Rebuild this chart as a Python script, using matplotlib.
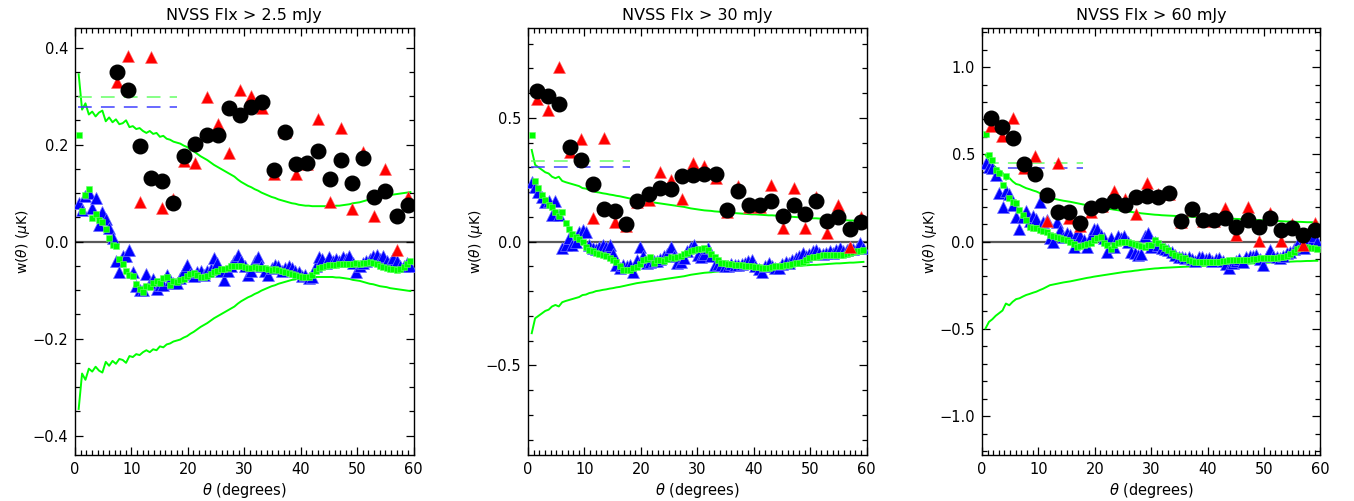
import numpy as np
import matplotlib
matplotlib.use("Agg")
import matplotlib.pyplot as plt
from matplotlib.ticker import MultipleLocator, FuncFormatter

# fine angular grid (blue triangles, green squares, green envelope)
theta_f = np.round(np.arange(0.65, 60.0, 0.6), 2)
# coarse angular grid (black circles, red triangles)
theta_c = [1.55, 3.53, 5.51, 7.49, 9.47, 11.45, 13.43, 15.41, 17.39, 19.37,
           21.35, 23.33, 25.31, 27.29, 29.27, 31.25, 33.23, 35.21, 37.19, 39.17,
           41.15, 43.13, 45.11, 47.09, 49.07, 51.05, 53.03, 55.01, 56.99, 58.97]

titles = ["NVSS Flx > 2.5 mJy", "NVSS Flx > 30 mJy", "NVSS Flx > 60 mJy"]

# ---- panel 1 : > 2.5 mJy ----
env1 = [0.345, 0.272, 0.285, 0.262, 0.268, 0.258, 0.266, 0.270, 0.248, 0.256, 0.246,
        0.252, 0.242, 0.244, 0.250, 0.236, 0.238, 0.232, 0.234, 0.228, 0.224, 0.228,
        0.222, 0.224, 0.216, 0.218, 0.212, 0.210, 0.206, 0.204, 0.202, 0.198, 0.195,
        0.190, 0.186, 0.181, 0.176, 0.172, 0.168, 0.163, 0.158, 0.154, 0.150, 0.146,
        0.142, 0.138, 0.134, 0.128, 0.123, 0.119, 0.115, 0.112, 0.108, 0.105, 0.101,
        0.098, 0.095, 0.092, 0.090, 0.087, 0.085, 0.083, 0.081, 0.079, 0.078, 0.076,
        0.075, 0.074, 0.074, 0.073, 0.073, 0.073, 0.073, 0.073, 0.073, 0.073, 0.074,
        0.074, 0.075, 0.076, 0.077, 0.079, 0.080, 0.081, 0.083, 0.085, 0.087, 0.088,
        0.090, 0.092, 0.093, 0.094, 0.096, 0.097, 0.098, 0.099, 0.100, 0.101, 0.102]
blue1 = [0.079, 0.065, 0.095, 0.100, 0.070, 0.089, 0.035, 0.062, 0.047, 0.028, 0.008,
         -0.040, -0.062, -0.030, -0.030, -0.017, -0.062, -0.092, -0.100, -0.100, -0.067, -0.085,
         -0.077, -0.097, -0.090, -0.089, -0.068, -0.080, -0.085, -0.086, -0.075, -0.060, -0.048,
         -0.067, -0.070, -0.062, -0.060, -0.068, -0.060, -0.056, -0.034, -0.044, -0.060, -0.079,
         -0.060, -0.050, -0.040, -0.028, -0.040, -0.050, -0.068, -0.060, -0.040, -0.031, -0.050,
         -0.060, -0.068, -0.055, -0.048, -0.050, -0.060, -0.055, -0.050, -0.055, -0.060, -0.062,
         -0.070, -0.068, -0.075, -0.073, -0.050, -0.031, -0.035, -0.045, -0.031, -0.040, -0.035,
         -0.040, -0.031, -0.035, -0.030, -0.045, -0.062, -0.050, -0.045, -0.040, -0.035, -0.030,
         -0.027, -0.035, -0.030, -0.040, -0.045, -0.034, -0.040, -0.050, -0.050, -0.045, -0.050]
green1 = [0.220, 0.064, 0.097, 0.108, 0.049, 0.056, 0.045, 0.040, 0.026, 0.008, -0.008,
          -0.010, -0.036, -0.046, -0.060, -0.068, -0.070, -0.087, -0.097, -0.103, -0.092, -0.094,
          -0.085, -0.082, -0.086, -0.076, -0.074, -0.089, -0.082, -0.083, -0.080, -0.077, -0.070,
          -0.066, -0.065, -0.068, -0.074, -0.072, -0.070, -0.066, -0.063, -0.060, -0.057, -0.056,
          -0.055, -0.051, -0.050, -0.050, -0.051, -0.053, -0.055, -0.054, -0.053, -0.054, -0.055,
          -0.055, -0.056, -0.058, -0.057, -0.058, -0.060, -0.062, -0.064, -0.066, -0.068, -0.070,
          -0.072, -0.073, -0.074, -0.068, -0.060, -0.055, -0.052, -0.050, -0.048, -0.049, -0.048,
          -0.047, -0.047, -0.046, -0.047, -0.046, -0.045, -0.046, -0.044, -0.045, -0.043, -0.045,
          -0.047, -0.050, -0.052, -0.054, -0.056, -0.057, -0.058, -0.056, -0.052, -0.046, -0.041]
black1 = [0.349, 0.312, 0.197, 0.132, 0.125, 0.079, 0.176, 0.201, 0.219, 0.219,
          0.276, 0.260, 0.278, 0.288, 0.147, 0.226, 0.160, 0.162, 0.187, 0.130,
          0.168, 0.121, 0.173, 0.091, 0.105, 0.053, 0.075]
red1 = [0.329, 0.382, 0.081, 0.380, 0.070, 0.088, 0.166, 0.163, 0.299, 0.242,
        0.182, 0.312, 0.301, 0.276, 0.139, 0.225, 0.139, 0.160, 0.252, 0.081,
        0.234, 0.068, 0.185, 0.053, 0.149, -0.017, 0.092]

# ---- panel 2 : > 30 mJy ----
env2 = [0.370, 0.310, 0.300, 0.290, 0.280, 0.275, 0.262, 0.256, 0.262, 0.245, 0.240,
        0.236, 0.232, 0.228, 0.224, 0.216, 0.214, 0.208, 0.205, 0.200, 0.198, 0.195,
        0.193, 0.190, 0.188, 0.185, 0.183, 0.180, 0.177, 0.174, 0.171, 0.168, 0.166,
        0.164, 0.162, 0.160, 0.158, 0.156, 0.154, 0.152, 0.150, 0.148, 0.146, 0.144,
        0.142, 0.140, 0.137, 0.134, 0.132, 0.130, 0.128, 0.126, 0.125, 0.124, 0.122,
        0.121, 0.120, 0.118, 0.117, 0.116, 0.115, 0.114, 0.113, 0.112, 0.111, 0.110,
        0.110, 0.109, 0.108, 0.107, 0.106, 0.106, 0.105, 0.104, 0.103, 0.102, 0.101,
        0.100, 0.099, 0.098, 0.097, 0.096, 0.095, 0.094, 0.094, 0.093, 0.092, 0.091,
        0.090, 0.089, 0.088, 0.088, 0.087, 0.086, 0.085, 0.085, 0.084, 0.083, 0.082]
blue2 = [0.240, 0.220, 0.200, 0.180, 0.160, 0.162, 0.108, 0.162, 0.108, -0.027, -0.013,
         0.014, -0.013, 0.000, 0.040, 0.047, 0.038, -0.013, -0.027, -0.030, -0.020, -0.013,
         -0.020, -0.013, -0.050, -0.094, -0.108, -0.094, -0.100, -0.094, -0.121, -0.074, -0.020,
         -0.060, -0.087, -0.081, -0.080, -0.080, -0.070, -0.060, -0.050, -0.020, -0.060, -0.087,
         -0.081, -0.067, -0.040, -0.020, -0.013, -0.054, -0.061, -0.050, -0.027, -0.060, -0.094,
         -0.090, -0.095, -0.100, -0.100, -0.090, -0.095, -0.094, -0.090, -0.085, -0.080, -0.074,
         -0.100, -0.110, -0.121, -0.100, -0.088, -0.100, -0.105, -0.108, -0.090, -0.081, -0.085,
         -0.075, -0.067, -0.060, -0.047, -0.060, -0.050, -0.040, -0.034, -0.045, -0.050, -0.047,
         -0.040, -0.045, -0.034, -0.027, -0.040, -0.035, -0.020, -0.030, -0.025, -0.007, -0.027]
green2 = [0.430, 0.243, 0.216, 0.190, 0.169, 0.148, 0.140, 0.120, 0.105, 0.121, 0.074,
          0.050, 0.030, 0.020, 0.010, 0.000, -0.020, -0.035, -0.040, -0.045, -0.050, -0.054,
          -0.060, -0.067, -0.074, -0.081, -0.100, -0.114, -0.114, -0.114, -0.108, -0.101, -0.090,
          -0.074, -0.070, -0.061, -0.087, -0.074, -0.075, -0.080, -0.070, -0.061, -0.065, -0.061,
          -0.058, -0.050, -0.047, -0.040, -0.034, -0.030, -0.028, -0.027, -0.035, -0.050, -0.061,
          -0.075, -0.085, -0.088, -0.090, -0.092, -0.094, -0.094, -0.096, -0.098, -0.100, -0.100,
          -0.102, -0.104, -0.106, -0.108, -0.106, -0.104, -0.100, -0.100, -0.098, -0.096, -0.094,
          -0.090, -0.088, -0.085, -0.081, -0.075, -0.068, -0.064, -0.061, -0.058, -0.056, -0.055,
          -0.054, -0.054, -0.054, -0.054, -0.054, -0.050, -0.047, -0.044, -0.040, -0.037, -0.034]
black2 = [0.609, 0.590, 0.556, 0.383, 0.330, 0.233, 0.132, 0.125, 0.070, 0.162,
          0.193, 0.216, 0.214, 0.266, 0.270, 0.274, 0.274, 0.128, 0.206, 0.146,
          0.146, 0.163, 0.104, 0.148, 0.112, 0.163, 0.084, 0.099, 0.050, 0.081]
red2 = [0.576, 0.530, 0.704, 0.360, 0.414, 0.094, 0.420, 0.081, 0.061, 0.160,
        0.166, 0.283, 0.247, 0.171, 0.317, 0.307, 0.256, 0.120, 0.225, 0.140,
        0.140, 0.229, 0.054, 0.218, 0.054, 0.180, 0.034, 0.148, -0.020, 0.101]

# ---- panel 3 : > 60 mJy ----
env3 = [0.497, 0.460, 0.445, 0.425, 0.410, 0.395, 0.355, 0.365, 0.345, 0.330, 0.325,
        0.315, 0.306, 0.300, 0.293, 0.287, 0.278, 0.270, 0.260, 0.250, 0.246, 0.242,
        0.238, 0.234, 0.231, 0.228, 0.224, 0.220, 0.216, 0.212, 0.208, 0.205, 0.201,
        0.198, 0.195, 0.192, 0.189, 0.186, 0.183, 0.180, 0.177, 0.174, 0.172, 0.170,
        0.167, 0.165, 0.162, 0.160, 0.158, 0.156, 0.154, 0.153, 0.151, 0.150, 0.149,
        0.148, 0.147, 0.146, 0.145, 0.144, 0.143, 0.142, 0.141, 0.140, 0.139, 0.138,
        0.137, 0.136, 0.135, 0.134, 0.134, 0.133, 0.132, 0.131, 0.130, 0.129, 0.128,
        0.127, 0.126, 0.125, 0.124, 0.123, 0.122, 0.121, 0.120, 0.119, 0.118, 0.117,
        0.116, 0.115, 0.115, 0.114, 0.113, 0.113, 0.112, 0.111, 0.111, 0.110, 0.110]
blue3 = [0.450, 0.430, 0.420, 0.380, 0.280, 0.200, 0.287, 0.270, 0.210, 0.140, 0.071,
         0.143, 0.176, 0.120, 0.147, 0.130, 0.229, 0.115, 0.124, 0.020, 0.000, 0.115,
         0.067, 0.029, 0.050, 0.040, -0.029, 0.050, 0.030, 0.010, -0.029, 0.030, 0.071,
         0.071, 0.040, 0.020, -0.057, 0.020, -0.029, 0.030, 0.020, 0.030, 0.000, -0.057,
         -0.067, -0.076, -0.072, 0.030, 0.050, -0.029, 0.000, -0.020, -0.038, -0.040, -0.050,
         -0.060, -0.075, -0.086, -0.090, -0.095, -0.090, -0.100, -0.110, -0.086, -0.090, -0.100,
         -0.095, -0.110, -0.100, -0.095, -0.110, -0.130, -0.153, -0.120, -0.110, -0.100, -0.115,
         -0.090, -0.085, -0.080, -0.076, -0.100, -0.134, -0.080, -0.048, -0.080, -0.090, -0.095,
         -0.085, -0.067, -0.060, -0.040, -0.019, -0.030, -0.038, 0.020, -0.010, 0.030, 0.000]
green3 = [0.617, 0.497, 0.468, 0.411, 0.392, 0.325, 0.373, 0.249, 0.229, 0.219, 0.182,
          0.153, 0.124, 0.086, 0.080, 0.076, 0.067, 0.060, 0.057, 0.038, 0.032, 0.029,
          0.020, 0.012, 0.008, 0.000, -0.015, -0.029, -0.025, -0.019, -0.015, -0.010, 0.010,
          0.020, 0.029, -0.010, -0.020, -0.040, -0.020, -0.010, 0.000, 0.000, -0.005, -0.010,
          -0.015, -0.019, -0.025, -0.029, -0.022, -0.019, 0.010, -0.010, -0.025, -0.038, -0.050,
          -0.065, -0.076, -0.085, -0.095, -0.095, -0.105, -0.110, -0.115, -0.115, -0.115, -0.115,
          -0.115, -0.115, -0.115, -0.115, -0.112, -0.110, -0.108, -0.105, -0.105, -0.105, -0.105,
          -0.105, -0.103, -0.100, -0.098, -0.095, -0.095, -0.095, -0.095, -0.095, -0.092, -0.090,
          -0.086, -0.080, -0.070, -0.057, -0.045, -0.035, -0.029, -0.032, -0.036, -0.038, -0.045]
black3 = [0.711, 0.656, 0.593, 0.446, 0.388, 0.268, 0.172, 0.168, 0.105, 0.192,
          0.210, 0.233, 0.210, 0.258, 0.262, 0.255, 0.277, 0.120, 0.186, 0.124,
          0.124, 0.134, 0.086, 0.124, 0.086, 0.134, 0.067, 0.075, 0.038, 0.065]
red3 = [0.663, 0.606, 0.707, 0.424, 0.493, 0.119, 0.449, 0.134, 0.090, 0.170,
        0.205, 0.287, 0.243, 0.159, 0.335, 0.270, 0.270, 0.110, 0.180, 0.120,
        0.120, 0.191, 0.038, 0.200, 0.005, 0.163, 0.005, 0.101, -0.019, 0.105]

# horizontal dashed reference levels (green, blue) over 0.5-18 deg
dash_green = [0.298, 0.326, 0.453]
dash_blue = [0.277, 0.301, 0.424]
dash_span = [0.5, 18.0]

envs = [env1, env2, env3]
blues = [blue1, blue2, blue3]
greens = [green1, green2, green3]
blacks = [black1, black2, black3]
reds = [red1, red2, red3]
ylims = [0.44, 0.862, 1.223]
ymajor = [0.2, 0.5, 0.5]
yminor = [0.05, 0.1, 0.1]

plt.rcParams['font.family'] = ['DejaVu Sans']
fig = plt.figure(figsize=(13.54, 5.01), dpi=100)
lefts = [0.0554, 0.3900, 0.7252]

def fmt(v, pos):
    s = "%.1f" % v
    if s == "-0.0":
        s = "0.0"
    return s.replace("-", "\u2212")

for i in range(3):
    ax = fig.add_axes([lefts[i], 0.0918, 0.2500, 0.852])
    th_c = theta_c[-len(blacks[i]):]
    env = np.array(envs[i])

    ax.axhline(0, color="0.35", lw=1.6, zorder=1)
    ax.plot(theta_f, env, color="#00ff00", lw=1.4, zorder=2)
    ax.plot(theta_f, -env, color="#00ff00", lw=1.4, zorder=2)
    ax.hlines(dash_green[i], *dash_span, colors="#66ff66", lw=1.1,
              linestyles=(0, (9, 6)), zorder=2)
    ax.hlines(dash_blue[i], *dash_span, colors="#4040ff", lw=1.1,
              linestyles=(0, (9, 6)), zorder=2)

    ax.plot(theta_f, blues[i], "^", color="#0000ff", ms=8,
            mec="#7070ff", mew=0.5, zorder=3)
    ax.plot(theta_f, greens[i], "s", color="#00ff00", ms=5,
            mec="#66ff66", mew=0.4, zorder=4)
    ax.plot(th_c, reds[i], "^", color="#ff0000", ms=8.5, mec="#ff6666",
            mew=0.4, zorder=5)
    ax.plot(th_c, blacks[i], "o", color="black", ms=10.5, zorder=6)

    ax.set_xlim(0, 60)
    ax.set_ylim(-ylims[i], ylims[i])
    ax.xaxis.set_major_locator(MultipleLocator(10))
    ax.xaxis.set_minor_locator(MultipleLocator(1))
    ax.yaxis.set_major_locator(MultipleLocator(ymajor[i]))
    ax.yaxis.set_minor_locator(MultipleLocator(yminor[i]))
    ax.yaxis.set_major_formatter(FuncFormatter(fmt))
    ax.tick_params(which="both", direction="in", top=True, right=True,
                   labelsize=10.5, width=0.9)
    ax.tick_params(which="major", length=6, pad=5)
    ax.tick_params(which="minor", length=3.5)
    for sp in ax.spines.values():
        sp.set_linewidth(1.0)

    ax.set_title(titles[i], fontsize=11.5, pad=6)
    ax.set_xlabel(r"$\theta$ (degrees)", fontsize=10.5, labelpad=3)
    ax.set_ylabel(r"w($\theta$) ($\mu$K)", fontsize=10, labelpad=0)

fig.savefig("out.png", dpi=100)
